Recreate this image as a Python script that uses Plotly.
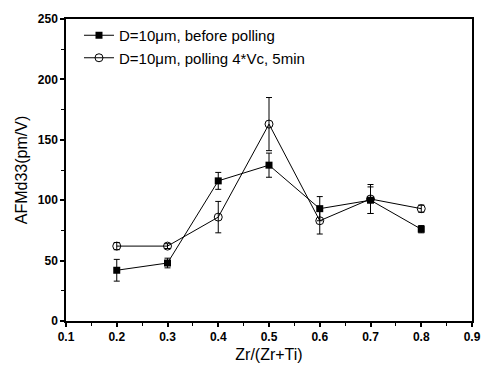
import plotly.graph_objects as go

# Composition ratio Zr/(Zr+Ti)
zr_ratio = [0.2, 0.3, 0.4, 0.5, 0.6, 0.7, 0.8]

# d33 before poling and its error
d33_before = [42, 48, 116, 129, 93, 100, 76]
err_before = [9, 4, 7, 10, 10, 11, 3]

# d33 after poling at 4*Vc for 5 min and its error
d33_poled = [62, 62, 86, 163, 83, 101, 93]
err_poled = [3, 2, 13, 22, 11, 12, 3]

x_ticks = [0.1, 0.2, 0.3, 0.4, 0.5, 0.6, 0.7, 0.8, 0.9]
y_ticks = [0, 50, 100, 150, 200, 250]

font_family = "Liberation Sans, Arial, sans-serif"

fig = go.Figure()
fig.add_trace(go.Scatter(
    x=zr_ratio, y=d33_before, mode="lines+markers",
    name="D=10\u03bcm, before polling",
    line=dict(color="black", width=1),
    marker=dict(symbol="square", size=7, color="black"),
    error_y=dict(type="data", array=err_before, color="black", thickness=1, width=3),
))
fig.add_trace(go.Scatter(
    x=zr_ratio, y=d33_poled, mode="lines+markers",
    name="D=10\u03bcm, polling 4*Vc, 5min",
    line=dict(color="black", width=1),
    marker=dict(symbol="circle-open", size=8, color="black", line=dict(width=1)),
    error_y=dict(type="data", array=err_poled, color="black", thickness=1, width=3),
))

axis_common = dict(
    showgrid=False, zeroline=False, showline=True, linecolor="black", linewidth=1.5,
    ticks="outside", ticklen=4, tickwidth=1.5, tickcolor="black", mirror=True,
    tickfont=dict(family=font_family, size=12, color="black", weight="bold"),
    minor=dict(ticks="outside", ticklen=3, tickwidth=1, tickcolor="black"),
)

fig.update_layout(
    width=493, height=373,
    margin=dict(l=66, r=13, t=16, b=44),
    paper_bgcolor="white", plot_bgcolor="white",
    font=dict(family=font_family, size=12, color="black"),
    showlegend=True,
    legend=dict(x=0.032, y=1.0, xanchor="left", yanchor="top",
                bgcolor="rgba(0,0,0,0)", font=dict(size=15, family=font_family),
                itemwidth=30, tracegroupgap=0),
    xaxis=dict(axis_common, range=[0.1, 0.9], tickvals=x_ticks,
               ticktext=[f"{v:.1f}" for v in x_ticks],
               title=dict(text="Zr/(Zr+Ti)", font=dict(size=16, family=font_family), standoff=6)),
    yaxis=dict(axis_common, range=[0, 250], tickvals=y_ticks,
               title=dict(text="AFMd33(pm/V)", font=dict(size=16, family=font_family), standoff=6)),
)
fig.update_xaxes(minor=dict(dtick=0.05, tick0=0.1))
fig.update_yaxes(minor=dict(dtick=25, tick0=0))

fig.write_html("out.html")
